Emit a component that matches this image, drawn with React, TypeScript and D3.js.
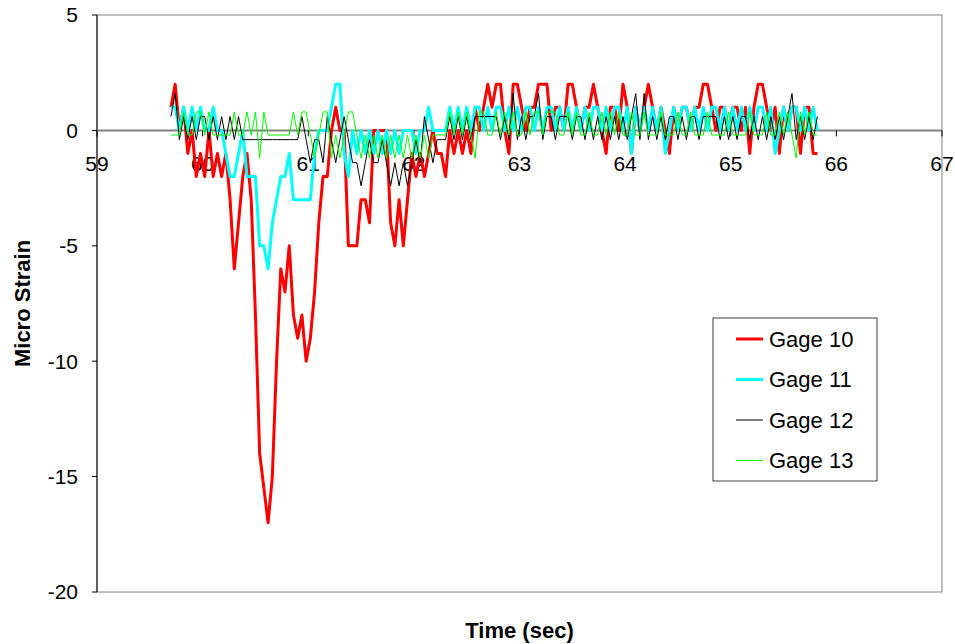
import React from "react";
import * as d3 from "d3";

// Sampling: first sample time and sample interval (s)
const START_TIME = 59.7;
const SAMPLE_STEP = 0.04;

const gage10: number[] = [
  1, 2, 0, 1, -1, 0, -2, -1, -2, 0,
  -2, -1, -2, -1, -3, -6, -4, -2, -1, -3,
  -8, -14, -15.5, -17, -15, -10, -6, -7, -5, -8,
  -9, -8, -10, -9, -7, -4, -2, -2, 0, 1,
  0, 0, -5, -5, -5, -3, -3, -4, 0, 0,
  0, 0, -4, -5, -3, -5, -3, -1, -2, -1,
  -2, -1, 0, -1, -1, -2, 0, -1, 0, -1,
  0, -1, 1, 0, 1, 2, 1, 2, 2, 0,
  -1, 2, 2, 1, 0, 1, 1, 2, 2, 2,
  0, 1, 1, 0, 2, 2, 1, 0, 1, 1,
  2, 1, 0, -1, 1, 1, 0, 2, 1, -1,
  1, 0, 1, 2, 1, 0, 1, 0, -1, 1,
  0, 1, 1, 0, 1, 1, 2, 2, 1, 0,
  1, 1, 0, 1, 1, 0, 1, -1, 1, 2,
  2, 1, 0, 1, -1, 1, 0, 1, 1, -1,
  1, 1, -1, -1,
];

const gage11: number[] = [
  1, 1, 0, 1, 0, 1, 0, 1, 0, 0,
  1, 0, 0, -1, -2, -2, -1, 0, -2, -2,
  -2, -5, -5, -6, -4, -3, -2, -2, -1, -3,
  -3, -3, -3, -3, -1, 0, 0, 0, 1, 2,
  2, -1, -2, 0, -1, 0, -1, 0, -1, 0,
  -1, 0, -1, 0, -1, 0, 0, 0, -1, 0,
  0, 1, 0, 0, 0, 0, 1, 0, 1, 0,
  1, 0, 1, 1, 0, 1, 0, 1, 1, 0,
  1, 0, 1, 0, 1, 1, 0, 1, 0, 1,
  1, 0, 1, 0, 1, 0, 1, 0, 1, 0,
  1, 1, 0, 1, 0, 1, 1, 0, 1, -1,
  1, 0, 1, 0, 1, 0, 1, -1, 0, 1,
  0, 1, 1, 0, 1, 0, 1, 0, 1, 1,
  0, 1, 0, 1, 0, 1, 0, 1, 0, 1,
  1, 0, 1, -1, 0, 1, 0, 1, 1, 0,
  1, 0, 1, 0,
];

const gage12: number[] = [
  0.6, 1.6, -0.4, 0.6, -0.4, 0.6, -0.4, 0.6, 0.6, -0.4,
  0.6, -0.4, 0.6, -0.4, 0.6, -0.4, 0.6, -0.4, -0.4, -0.4,
  -0.4, -0.4, -0.4, -0.4, -0.4, -0.4, -0.4, -0.4, -0.4, -0.4,
  -0.4, 0.6, -0.4, -1.4, -0.4, -0.4, -1.4, 0.6, -0.4, -1.4,
  -0.4, 0.6, -0.4, -1.4, -1.4, -2.4, -1.4, -0.4, -1.4, -1.4,
  -0.4, -1.4, -2.4, -1.4, -2.4, -1.4, -2.4, -1.4, -0.4, -1.4,
  0.6, -0.4, -1.4, -0.4, -0.4, -0.4, 0.6, -0.4, 0.6, -0.4,
  0.6, -0.4, 0.6, 0.6, 0.6, 0.6, 0.6, 0.6, -0.4, 0.6,
  -0.4, 1.6, -0.4, 0.6, -0.4, 0.6, 0.6, 1.6, -0.4, 0.6,
  0.6, -0.4, 0.6, 0.6, 0.6, -0.4, 0.6, 0.6, -0.4, 0.6,
  -0.4, 0.6, -0.4, 0.6, -0.4, 0.6, -0.4, 0.6, -0.4, 0.6,
  1.6, -0.4, 1.6, -0.4, 0.6, -0.4, 0.6, -0.4, 0.6, 0.6,
  -0.4, 0.6, -0.4, 0.6, 0.6, -0.4, 0.6, 0.6, 0.6, 0.6,
  -0.4, 0.6, -0.4, 0.6, -0.4, 0.6, 0.6, -0.4, 0.6, -0.4,
  0.6, -0.4, 0.6, -0.4, 0.6, -0.4, 0.6, 1.6, -0.4, 0.6,
  -0.4, 0.6, -0.4, 0.6,
];

const gage13: number[] = [
  -0.2, -0.2, -0.2, 0.8, -0.2, -0.2, 0.8, 0.8, -0.2, 0.8,
  -0.2, -0.2, -0.2, -0.2, -0.2, 0.8, -0.2, -0.2, 0.8, -0.2,
  0.8, -1.2, 0.8, -0.2, -0.2, -0.2, -0.2, -0.2, -0.2, 0.8,
  -0.2, 0.8, 0.8, -0.2, -1.2, -0.2, 0.8, 0.8, -1.2, -0.2,
  -1.2, -0.2, 0.8, 0.8, -0.2, -1.2, -0.2, -1.2, -0.2, -1.2,
  -0.2, -1.2, -0.2, -1.2, -0.2, -1.2, -0.2, -1.2, -0.2, -1.2,
  -0.2, -1.2, -0.2, -0.2, -0.2, -0.2, 0.8, -0.2, 0.8, -0.2,
  0.8, -0.2, -1.2, 0.8, 0.8, -0.2, -0.2, 0.8, -0.2, 0.8,
  -0.2, 0.8, -0.2, -0.2, 0.8, -0.2, 0.8, 0.8, -0.2, 0.8,
  0.8, 0.8, -0.2, -0.2, 0.8, -0.2, 0.8, -0.2, -0.2, 0.8,
  -0.2, -0.2, 0.8, -0.2, 0.8, -0.2, 0.8, -0.2, -0.2, 0.8,
  -0.2, -0.2, 0.8, -0.2, -0.2, -0.2, 0.8, -0.2, -0.2, -0.2,
  0.8, -0.2, -0.2, 0.8, -0.2, -0.2, -0.2, 0.8, -0.2, -0.2,
  -0.2, -0.2, 0.8, -0.2, -0.2, -0.2, -0.2, 0.8, -0.2, -0.2,
  -0.2, 0.8, -0.2, -0.2, 0.8, -0.2, 0.8, -0.2, -1.2, 0.8,
  -0.2, 0.8, -0.2, -0.2,
];

const seriesNames = ["Gage 10", "Gage 11", "Gage 12", "Gage 13"];
const seriesValues = [gage10, gage11, gage12, gage13];
const seriesColors = ["#FF0000", "#00FFFF", "#000000", "#00FF00"];
const seriesWidths = [3, 3, 1, 1];

const xTicks = [59, 60, 61, 62, 63, 64, 65, 66, 67];
const yTicks = [5, 0, -5, -10, -15, -20];

const W = 955;
const H = 644;
const plot = { left: 97, right: 942, top: 15, bottom: 592 };
const FONT = "'Liberation Sans', Arial, sans-serif";

export default function App() {
  const x = d3.scaleLinear().domain([59, 67]).range([plot.left, plot.right]);
  const y = d3.scaleLinear().domain([-20, 5]).range([plot.bottom, plot.top]);

  const line = d3
    .line<number>()
    .x((_, i) => x(START_TIME + i * SAMPLE_STEP))
    .y((d) => y(d))
    .curve(d3.curveLinear);

  const legendX = 713;
  const legendY = 318;
  const legendW = 164;
  const legendH = 163;

  return (
    <svg
      width={W}
      height={H}
      style={{ position: "absolute", left: 0, top: 0, display: "block", background: "#fff" }}
      fontFamily={FONT}
    >
      {/* plot border */}
      <rect
        x={plot.left}
        y={plot.top}
        width={plot.right - plot.left}
        height={plot.bottom - plot.top}
        fill="none"
        stroke="#808080"
        strokeWidth={1}
      />
      {/* y axis */}
      <line x1={plot.left} x2={plot.left} y1={plot.top} y2={plot.bottom} stroke="#000" strokeWidth={1} />
      {yTicks.map((t) => (
        <g key={"y" + t}>
          <line x1={plot.left - 5} x2={plot.left} y1={y(t)} y2={y(t)} stroke="#000" />
          <text x={plot.left - 19} y={y(t)} dy="0.35em" textAnchor="end" fontSize={21} fill="#000">
            {t}
          </text>
        </g>
      ))}
      {/* x axis at y=0 */}
      <line x1={plot.left} x2={plot.right} y1={y(0)} y2={y(0)} stroke="#808080" strokeWidth={2} />
      {xTicks.map((t) => (
        <g key={"x" + t}>
          <line x1={x(t)} x2={x(t)} y1={y(0)} y2={y(0) + 6} stroke="#000" />
          <text x={x(t)} y={y(0) + 41} textAnchor="middle" fontSize={21} fill="#000">
            {t}
          </text>
        </g>
      ))}

      {/* series */}
      {seriesValues.map((vals, k) => (
        <path
          key={seriesNames[k]}
          d={line(vals) || ""}
          fill="none"
          stroke={seriesColors[k]}
          strokeWidth={seriesWidths[k]}
          strokeLinejoin="round"
        />
      ))}

      {/* axis titles */}
      <text
        transform={`translate(30, ${(plot.top + plot.bottom) / 2}) rotate(-90)`}
        textAnchor="middle"
        fontSize={22}
        fontWeight="bold"
        fill="#000"
      >
        Micro Strain
      </text>
      <text x={(plot.left + plot.right) / 2} y={638} textAnchor="middle" fontSize={22} fontWeight="bold" fill="#000">
        Time (sec)
      </text>

      {/* legend */}
      <rect x={legendX} y={legendY} width={legendW} height={legendH} fill="#fff" stroke="#404040" strokeWidth={1} />
      {seriesNames.map((n, k) => {
        const cy = legendY + 21 + k * 40.5;
        return (
          <g key={"lg" + n}>
            <line
              x1={legendX + 23}
              x2={legendX + 50}
              y1={cy}
              y2={cy}
              stroke={seriesColors[k]}
              strokeWidth={seriesWidths[k] === 1 ? 1 : 3}
            />
            <text x={legendX + 56} y={cy} dy="0.35em" fontSize={22} fill="#000">
              {n}
            </text>
          </g>
        );
      })}
    </svg>
  );
}
